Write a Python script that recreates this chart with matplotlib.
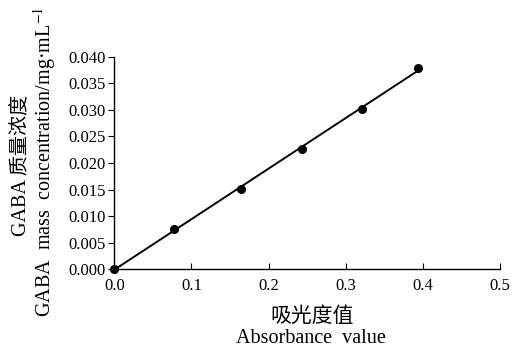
import numpy as np
import matplotlib
matplotlib.use("Agg")
import matplotlib.pyplot as plt

plt.rcParams['font.family'] = ['Liberation Serif', 'Noto Sans CJK SC']
plt.rcParams['mathtext.fontset'] = 'stix'

# 吸光度值 与 GABA 质量浓度
absorbance = [0.0, 0.077, 0.164, 0.243, 0.321, 0.394]
conc = [0.0, 0.0076, 0.0152, 0.0227, 0.0302, 0.0379]

xticks = [0.0, 0.1, 0.2, 0.3, 0.4, 0.5]
yticks = [0.000, 0.005, 0.010, 0.015, 0.020, 0.025, 0.030, 0.035, 0.040]

fig = plt.figure(figsize=(5.13, 3.48), dpi=100)
ax = fig.add_axes([0.2228, 0.2261, 0.7519, 0.6109])

# 线性拟合
k, b = np.polyfit(absorbance, conc, 1)
xf = np.array([absorbance[0], absorbance[-1]])
ax.plot(xf, k * xf + b, color='black', lw=1.4, zorder=2)
ax.plot(absorbance, conc, 'o', color='black', ms=5.5, zorder=3, clip_on=False)

ax.set_xlim(0, 0.5)
ax.set_ylim(0, 0.04)
ax.set_xticks(xticks)
ax.set_xticklabels(['%.1f' % v for v in xticks])
ax.set_yticks(yticks)
ax.set_yticklabels(['%.3f' % v for v in yticks])
ax.spines['top'].set_visible(False)
ax.spines['right'].set_visible(False)
ax.spines['left'].set_linewidth(1.0)
ax.spines['bottom'].set_linewidth(1.0)
ax.tick_params(axis='x', direction='in', length=4, labelsize=12, pad=6)
ax.tick_params(axis='y', direction='out', length=4, labelsize=12, pad=2)

fig.text(0.609, 0.09, '吸光度值', ha='center', va='center', fontsize=15)
fig.text(0.606, 0.028, 'Absorbance  value', ha='center', va='center', fontsize=14.5)
fig.text(0.041, 0.525, 'GABA 质量浓度', ha='center', va='center', rotation=90, fontsize=14.5)
fig.text(0.086, 0.535, 'GABA  mass  concentration/mg·mL$^{-1}$', ha='center', va='center',
         rotation=90, fontsize=14.5)

fig.savefig('out.png', dpi=100)
